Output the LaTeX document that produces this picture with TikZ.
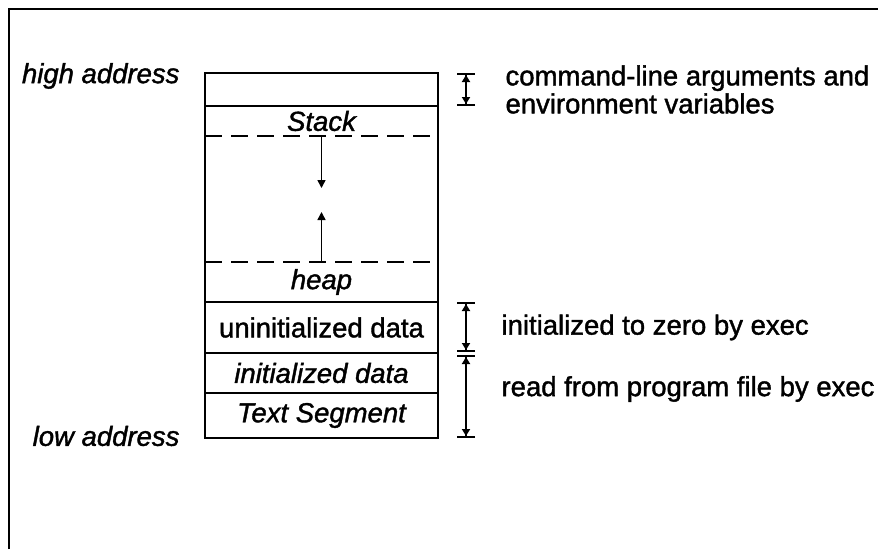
\documentclass[tikz,border=0pt]{standalone}
\usepackage{fontspec}
\setmainfont{Liberation Sans}[FakeBold=1.4]
\usetikzlibrary{positioning, arrows.meta}

\begin{document}
\begin{tikzpicture}[x=1pt, y=-1pt,
    every node/.style={font=\fontsize{27.5}{28}\selectfont},
    segrow/.style={minimum width=233pt, minimum height=#1, inner sep=0pt, outer sep=0pt},
    divider/.style={line width=1.8pt},
    dimarrow/.style={line width=1.8pt,
        {Bar[width=18pt,line width=2pt]Triangle[width=8pt,length=7pt]}-{Triangle[width=8pt,length=7pt]Bar[width=18pt,line width=2pt]}},
    growarrow/.style={line width=1.5pt, -{Triangle[width=8pt,length=8pt]}}]
    \useasboundingbox (0,0) rectangle (878,549);
    % frame
    \draw[line width=2.5pt] (9,549) -- (9,9) -- (878,9);

    % memory segments
    \node[segrow=33pt, anchor=north west] (top) at (205,73) {};
    \node[segrow=30pt, below=0pt of top] (stack) {\itshape Stack};
    \node[segrow=126pt, below=0pt of stack] (free) {};
    \node[segrow=40pt, below=0pt of free] (heap) {\itshape heap};
    \node[segrow=51pt, below=0pt of heap] (bss) {uninitialized data};
    \node[segrow=40pt, below=0pt of bss] (data) {\itshape initialized data};
    \node[segrow=45pt, below=0pt of data] (text) {\itshape Text Segment};

    \draw[divider] (top.north west) rectangle (text.south east);
    \draw[divider] (stack.north west) -- (stack.north east);
    \foreach \seg in {heap, bss, data}
        \draw[divider] (\seg.south west) -- (\seg.south east);
    \draw[divider, dash pattern=on 17pt off 9pt] (free.north west) -- (free.north east);
    \draw[divider, dash pattern=on 17pt off 9pt] (free.south west) -- (free.south east);

    % stack and heap growth
    \coordinate[below=52pt of free.north] (stacktip);
    \coordinate[above=50pt of free.south] (heaptip);
    \draw[growarrow] (free.north) -- (stacktip);
    \draw[growarrow] (free.south) -- (heaptip);

    % addresses
    \node[left=22pt of top.north west, yshift=-3pt] (highaddr) {\itshape high address};
    \node[left=22pt of text.south west, yshift=2pt] (lowaddr) {\itshape low address};

    % extents on the right
    \draw[dimarrow] ([xshift=28pt]top.north east) -- ([xshift=28pt]top.south east);
    \draw[dimarrow] ([xshift=28pt]bss.north east) -- ([xshift=28pt,yshift=1pt]bss.south east);
    \draw[dimarrow] ([xshift=28pt,yshift=-2pt]data.north east) -- ([xshift=28pt]text.south east);

    \node[right=64pt of top.east, align=left] (argtext) {command-line arguments and\\environment variables};
    \node[right=60pt of bss.east] (bsstext) {initialized to zero by exec};
    \node[right=60pt of data.south east, yshift=4pt] (datatext) {read from program file by exec};
\end{tikzpicture}
\end{document}
